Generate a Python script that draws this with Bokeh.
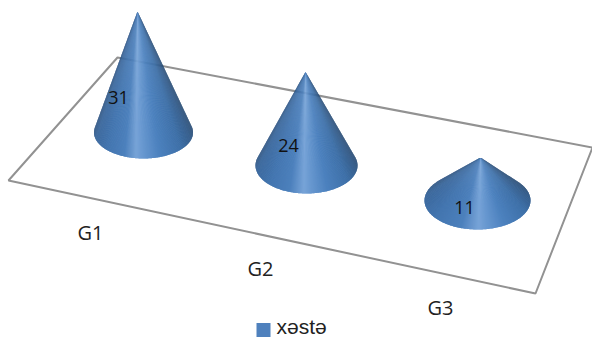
from bokeh.plotting import figure
from bokeh.models import Range1d
from bokeh.core.properties import value
from bokeh.embed import file_html
from bokeh.resources import INLINE
import numpy as np

categories = ["G1", "G2", "G3"]
patients = [31, 24, 11]
series_name = "xəstə"

W, H = 592, 338
HEIGHT_PER_UNIT = 3.9
BASE_X = [143, 306, 477]
BASE_Y = [132, 165, 200]
APEX_X = [137, 305, 480]
RX = [49.5, 51, 53]
RY = [26, 28, 29]
FLOOR = [(8, 180), (117, 57), (592, 147), (535, 293)]
CAT_POS = [(90, 232), (260, 268), (440, 307)]

p = figure(width=W, height=H, output_backend="svg", toolbar_location=None,
           x_range=Range1d(0, W), y_range=Range1d(H, 0), min_border=0,
           outline_line_color=None, background_fill_color="white")
p.axis.visible = False
p.grid.visible = False

# floor of the 3D plot
p.patch([c[0] for c in FLOOR], [c[1] for c in FLOOR], fill_color="white",
        line_color="#929292", line_width=2)

# colour ramp across the cone, from its left edge to its right edge
STOPS = [-1, -0.9, -0.6, -0.25, -0.02, 0.1, 0.35, 0.7, 0.9, 1]
RAMP = np.array([[0x2f, 0x55, 0x82], [0x3a, 0x67, 0x9c], [0x44, 0x76, 0xb0], [0x4d, 0x81, 0xbd],
                 [0x78, 0xa4, 0xd8], [0x68, 0x98, 0xd0], [0x4d, 0x82, 0xbf], [0x3f, 0x71, 0xa9],
                 [0x33, 0x5c, 0x8b], [0x2a, 0x4d, 0x75]], dtype=float)


def shade(u):
    rgb = [int(np.interp(u, STOPS, RAMP[:, i])) for i in range(3)]
    return "#%02x%02x%02x" % tuple(rgb)


for val, cx, cy, ax, rx, ry in zip(patients, BASE_X, BASE_Y, APEX_X, RX, RY):
    ay = cy - val * HEIGHT_PER_UNIT

    # angles where the cone's outline touches the base ellipse
    a, b = (ax - cx) / rx, (ay - cy) / ry
    phi, d = np.arctan2(b, a), np.arccos(1 / np.hypot(a, b))
    t_right, t_left = phi + d, phi - d + 2 * np.pi

    # sweep the visible side of the base, right to left, as a fan from the apex;
    # each facet overlaps the next slightly, so no seams show between them
    ts = np.linspace(t_right, t_left, 200)
    bx, by = cx + rx * np.cos(ts), cy + ry * np.sin(ts)
    spread = np.arctan2(bx - ax, by - ay)
    right_max, left_max = spread.max(), -spread.min()

    fxs, fys, fcs = [], [], []
    for i in range(len(ts) - 1):
        j = min(i + 2, len(ts) - 1)
        fxs.append([ax] + list(bx[i:j + 1]))
        fys.append([ay] + list(by[i:j + 1]))
        s = spread[i]
        fcs.append(shade(s / right_max if s > 0 else s / left_max))
    p.patches(fxs, fys, fill_color=fcs, line_color=None)

# value labels
LABEL_X = [118, 288, 464]
LABEL_Y = [97, 145, 207]
p.text(LABEL_X, LABEL_Y, text=[str(v) for v in patients], text_font=value("Open Sans"),
       text_font_size="18px", text_color="#111111", text_align="center", text_baseline="middle")

# category labels
p.text([c[0] for c in CAT_POS], [c[1] for c in CAT_POS], text=categories,
       text_font=value("Open Sans"), text_font_size="20px", text_color="#222222",
       text_align="center", text_baseline="middle")

# legend
p.scatter([263], [329.5], marker="square", size=14, fill_color="#4f81bd", line_color=None)
p.text([276], [326], text=[series_name], text_font=value("Liberation Sans"), text_font_size="21px",
       text_color="#222222", text_align="left", text_baseline="middle")

open("out.html", "w").write(file_html(p, INLINE))
